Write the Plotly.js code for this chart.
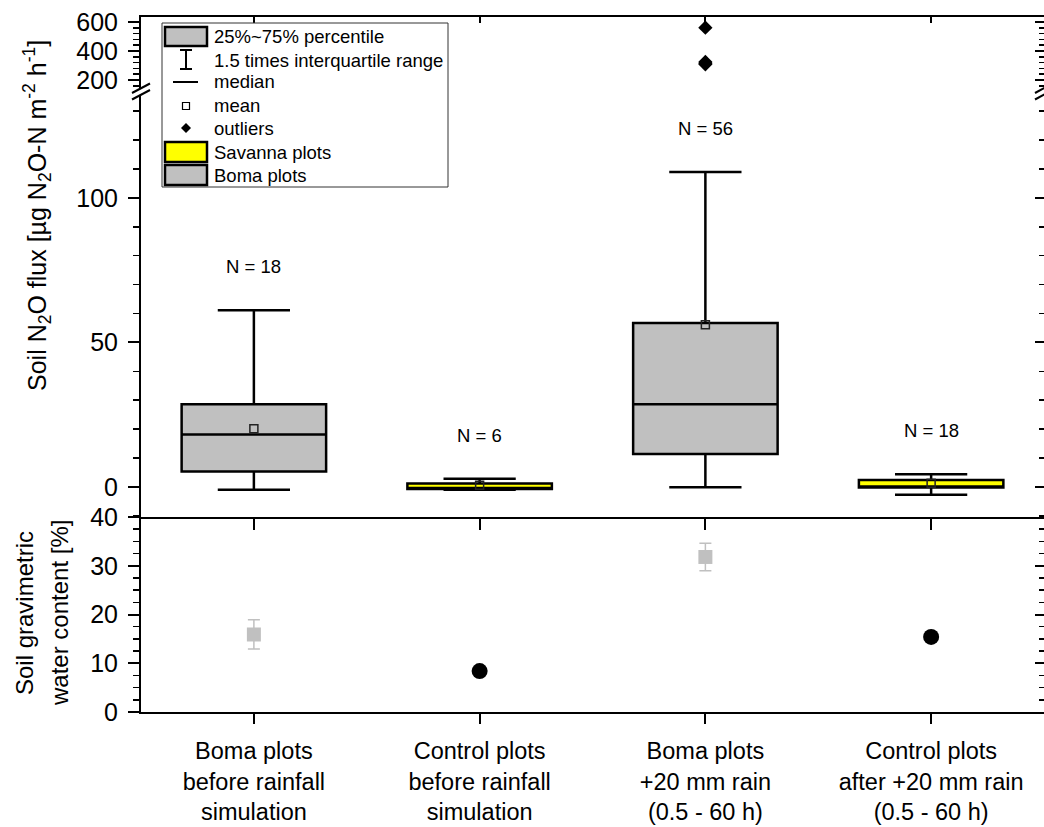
<!DOCTYPE html>
<html>
<head>
<meta charset="utf-8">
<script src="https://cdn.plot.ly/plotly-3.0.1.min.js"></script>
<style>html,body{margin:0;padding:0;background:#fff;}#chart{width:1044px;height:827px;}</style>
</head>
<body>
<div id="chart"></div>
<script>
// ---------- data ----------
const categories = [
  'Boma plots<br>before rainfall<br>simulation',
  'Control plots<br>before rainfall<br>simulation',
  'Boma plots<br>+20 mm rain<br>(0.5 - 60 h)',
  'Control plots<br>after +20 mm rain<br>(0.5 - 60 h)'
];
const catPos = [1, 2, 3, 4];
const plotType = ['Boma', 'Savanna', 'Boma', 'Savanna'];
const q1Vals = [5.3, -0.7, 11.4, -0.2];
const medianVals = [18.1, -0.7, 28.6, -0.2];
const q3Vals = [28.6, 1.2, 56.7, 2.4];
const lowerWhisker = [-1.0, -1.0, -0.1, -2.7];
const upperWhisker = [61.1, 2.8, 109.0, 4.4];
const meanVals = [20.1, 0.6, 56.1, 1.3];
const nObs = [18, 6, 56, 18];
const outlierCat = [3, 3, 3, 3];
const outlierVals = [561, 325, 316, 308];
const waterMean = [15.9, 8.4, 31.8, 15.4];
const waterSD = [3.0, 0, 2.8, 0];
const legendLabels = ['25%~75% percentile', '1.5 times interquartile range', 'median', 'mean', 'outliers', 'Savanna plots', 'Boma plots'];

// ---------- geometry helpers (pixels -> paper) ----------
const L = 141, R = 1044, T = 17, B = 712;
const W = R - L, H = B - T;
const px = x => (x - L) / W;
const py = y => (B - y) / H;

const FONT = 'Liberation Sans, Arial, sans-serif';
const GREY = '#c0c0c0', YELLOW = '#ffff00';

function pick(arr, type) { return arr.filter((v, i) => plotType[i] === type); }

const traces = [];
[['Boma', GREY], ['Savanna', YELLOW]].forEach(([type, col]) => {
  traces.push({
    type: 'box', name: type + ' plots', xaxis: 'x2', yaxis: 'y2',
    x: pick(catPos, type),
    q1: pick(q1Vals, type), median: pick(medianVals, type), q3: pick(q3Vals, type),
    lowerfence: pick(lowerWhisker, type), upperfence: pick(upperWhisker, type),
    boxpoints: false, width: 0.64, whiskerwidth: 0.5,
    fillcolor: col, line: {color: '#000', width: 2.5},
    showlegend: false, hoverinfo: 'skip'
  });
});
// means
traces.push({
  type: 'scatter', mode: 'markers', xaxis: 'x2', yaxis: 'y2',
  x: catPos, y: meanVals,
  marker: {symbol: 'square-open', size: 8, color: '#222', line: {width: 1.5}},
  showlegend: false, hoverinfo: 'skip'
});
// outliers in the broken top panel
traces.push({
  type: 'scatter', mode: 'markers', xaxis: 'x3', yaxis: 'y3',
  x: outlierCat, y: outlierVals,
  marker: {symbol: 'diamond', size: 11, color: '#000'},
  showlegend: false, hoverinfo: 'skip'
});
// soil water content
traces.push({
  type: 'scatter', mode: 'markers', xaxis: 'x', yaxis: 'y',
  x: pick(catPos, 'Boma'), y: pick(waterMean, 'Boma'),
  error_y: {type: 'data', array: pick(waterSD, 'Boma'), color: GREY, thickness: 1.5, width: 6},
  marker: {symbol: 'square', size: 14, color: GREY},
  showlegend: false, hoverinfo: 'skip'
});
traces.push({
  type: 'scatter', mode: 'markers', xaxis: 'x', yaxis: 'y',
  x: pick(catPos, 'Savanna'), y: pick(waterMean, 'Savanna'),
  marker: {symbol: 'circle', size: 16, color: '#000'},
  showlegend: false, hoverinfo: 'skip'
});
// carriers for right-side tick axes
traces.push({type: 'scatter', x: [], y: [], xaxis: 'x', yaxis: 'y4', showlegend: false});
traces.push({type: 'scatter', x: [], y: [], xaxis: 'x2', yaxis: 'y5', showlegend: false});
traces.push({type: 'scatter', x: [], y: [], xaxis: 'x3', yaxis: 'y6', showlegend: false});

const dBot = [0, py(517)], dMain = [py(517), py(95)], dTop = [py(95), 1];
const rBot = [0, 40], rMain = [-10.4, 135.6], rTop = [96.6, 634.5];
const xr = [0.5, 4.5];

const tickFont = {family: FONT, size: 25, color: '#000'};
function yAx(domain, range, tickvals, minorDtick, anchor) {
  return {
    domain, range, anchor, tickvals, ticks: 'outside', ticklen: 11, tickwidth: 2,
    tickcolor: '#000', showline: true, linewidth: 2, linecolor: '#000', mirror: true,
    showgrid: false, zeroline: false, tickfont: tickFont, ticklabelstandoff: 5,
    minor: {dtick: minorDtick, ticks: 'outside', ticklen: 6, tickwidth: 1.5, tickcolor: '#000', showgrid: false}
  };
}
function yRight(overlay, range, tickvals, minorDtick, anchor) {
  return {
    overlaying: overlay, side: 'right', anchor, range, tickvals, ticks: 'inside', ticklen: 9, tickwidth: 2,
    tickcolor: '#000', showline: false, showgrid: false, zeroline: false, showticklabels: false,
    minor: {dtick: minorDtick, ticks: 'inside', ticklen: 5, tickwidth: 1.5, tickcolor: '#000', showgrid: false}
  };
}
function xAx(anchor, side, ticks, len, labels) {
  return {
    anchor, side, range: xr, tickvals: catPos, ticktext: categories, showticklabels: labels,
    ticks, ticklen: len, tickwidth: 2, tickcolor: '#000', showline: true, linewidth: 2,
    linecolor: '#000', showgrid: false, zeroline: false,
    tickfont: {family: FONT, size: 23.5, color: '#000'}, ticklabelstandoff: 7
  };
}

const shapes = [];
const annotations = [];
function pline(x0, y0, x1, y1, w, col) {
  shapes.push({type: 'line', xref: 'paper', yref: 'paper', x0: px(x0), y0: py(y0), x1: px(x1), y1: py(y1),
    line: {color: col || '#000', width: w || 2}, layer: 'above'});
}
function prect(x0, y0, x1, y1, fill, w, col) {
  shapes.push({type: 'rect', xref: 'paper', yref: 'paper', x0: px(x0), y0: py(y0), x1: px(x1), y1: py(y1),
    fillcolor: fill, line: {color: col || '#000', width: w}, layer: 'above'});
}
function ppath(pts, fill, w, col) {
  const d = pts.map((p, i) => (i ? 'L' : 'M') + px(p[0]) + ',' + py(p[1])).join(' ') + ' Z';
  shapes.push({type: 'path', xref: 'paper', yref: 'paper', path: d, fillcolor: fill,
    line: {color: col || fill, width: w || 0}, layer: 'above'});
}

// axis breaks
ppath([[132, 93], [150, 83.5], [150, 90], [132, 99.5]], '#fff', 0, '#fff');
pline(132, 93, 150, 83.5, 2);
pline(132, 99.5, 150, 90, 2);
ppath([[1035, 93], [1046, 87], [1046, 93.5], [1035, 99.5]], '#fff', 0, '#fff');
pline(1035, 93, 1046, 87, 2);
pline(1035, 99.5, 1046, 93.5, 2);

// legend
prect(162, 23, 448, 187, '#fff', 1, '#333');
prect(165, 27, 207, 46, GREY, 2.5);
pline(186, 50, 186, 69, 2);
pline(180, 50, 192, 50, 2);
pline(180, 69, 192, 69, 2);
pline(173, 82, 198, 82, 2);
prect(182.5, 102.5, 189.5, 109.5, '#fff', 1.2);
ppath([[186, 123], [191, 128], [186, 133], [181, 128]], '#000');
prect(165, 142, 207, 162, YELLOW, 2.5);
prect(165, 165, 207, 185, GREY, 2.5);
const legRows = [36, 60, 82, 106, 128, 152, 175];
legendLabels.forEach((t, i) => annotations.push({
  xref: 'paper', yref: 'paper', x: px(212), y: py(legRows[i]), xanchor: 'left', yanchor: 'middle',
  text: t, showarrow: false, font: {family: FONT, size: 18.5, color: '#000'}
}));

// N labels above the upper whiskers
catPos.forEach((c, i) => annotations.push({
  xref: 'x2', yref: 'y2', x: c, y: upperWhisker[i] + 15, text: 'N = ' + nObs[i],
  xanchor: 'center', yanchor: 'middle',
  showarrow: false, font: {family: FONT, size: 18.5, color: '#000'}
}));

// axis titles
function vTitle(text, xPix, yPix, size) {
  annotations.push({
    xref: 'paper', yref: 'paper', x: px(xPix), y: py(yPix), xanchor: 'center', yanchor: 'middle',
    textangle: -90, showarrow: false, text, font: {family: FONT, size, color: '#000'}
  });
}
vTitle('Soil N<sub>2</sub>O flux [µg N<sub>2</sub>O-N m<sup>-2</sup> h<sup>-1</sup>]', 37, 216, 25);
vTitle('Soil gravimetric', 24, 613, 24);
vTitle('water content [%]', 59, 613, 24);

const layout = {
  width: 1044, height: 827,
  margin: {l: L, r: 1044 - R, t: T, b: 827 - B, pad: 0},
  paper_bgcolor: '#fff', plot_bgcolor: 'rgba(0,0,0,0)',
  font: {family: FONT, color: '#000'},
  showlegend: false, boxmode: 'overlay',
  xaxis: xAx('y', 'bottom', 'outside', 10, true),
  xaxis2: Object.assign(xAx('y2', 'bottom', 'outside', 11, false), {matches: 'x'}),
  xaxis3: Object.assign(xAx('y3', 'top', 'inside', 6, false), {matches: 'x'}),
  yaxis: yAx(dBot, rBot, [0, 10, 20, 30, 40], 2.5, 'x'),
  yaxis2: yAx(dMain, rMain, [0, 50, 100], 10, 'x2'),
  yaxis3: yAx(dTop, rTop, [200, 400, 600], 40, 'x3'),
  yaxis4: yRight('y', rBot, [0, 10, 20, 30, 40], 2.5, 'x'),
  yaxis5: yRight('y2', rMain, [0, 50, 100], 10, 'x2'),
  yaxis6: yRight('y3', rTop, [200, 400, 600], 40, 'x3'),
  shapes, annotations
};
Plotly.newPlot('chart', traces, layout, {staticPlot: true, displayModeBar: false});
</script>
</body>
</html>
